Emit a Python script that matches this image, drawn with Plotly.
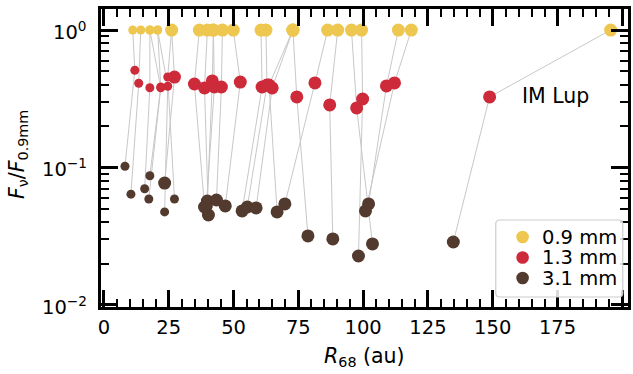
import math
import plotly.graph_objects as go

# Radius R68 (au) of each disc at the three wavelengths, and flux ratios to 0.9 mm
R_09 = [11.1, 14.2, 17.7, 20.7, 20.7, 26.1, 26.1, 17.7,
        36.8, 39.9, 42.2, 42.2, 45.7, 49.9,
        60.6, 62.5, 72.9, 72.9, 72.9, 86.3, 90.2, 95.5, 99.4, 113.6, 118.6, 195.5]
R_13 = [11.9, 13.4, 17.7, 21.9, 24.6, 27.2, 24.6, 21.9,
        34.9, 38.8, 41.8, 42.6, 45.3, 52.6,
        61.0, 62.9, 64.9, 63.7, 74.4, 81.4, 87.1, 97.5, 99.8, 109.0, 112.1, 148.8]
R_31 = [8.1, 10.4, 15.7, 17.7, 23.4, 23.4, 27.2, 17.3,
        38.8, 40.3, 39.9, 39.5, 43.4, 46.8,
        53.3, 55.3, 58.7, 66.8, 78.7, 69.8, 88.3, 103.6, 98.2, 102.1, 100.9, 134.8]
F_09 = [1.0] * 26
F_13 = [0.51, 0.41, 0.38, 0.385, 0.39, 0.455, 0.455, 0.38,
        0.405, 0.379, 0.426, 0.385, 0.385, 0.418,
        0.385, 0.398, 0.379, 0.398, 0.326, 0.412, 0.285, 0.271, 0.315, 0.392, 0.412, 0.326]
F_31 = [0.102, 0.064, 0.070, 0.087, 0.0475, 0.077, 0.059, 0.059,
        0.0516, 0.0451, 0.057, 0.0525, 0.058, 0.0525,
        0.0483, 0.0516, 0.0508, 0.0475, 0.0318, 0.0543, 0.0302, 0.0278, 0.0227, 0.0543, 0.0483, 0.0287]
# disc class: faint (small symbol) or bright (large symbol)
disc_class = ["faint"] * 5 + ["bright"] + ["faint"] * 2 + ["bright"] * 18

# labelled disc
label_name = "IM Lup"
label_pos = (174.4, 0.331)

bands = ["0.9 mm", "1.3 mm", "3.1 mm"]
colors = {"0.9 mm": "#EDC74F", "1.3 mm": "#CD2A3A", "3.1 mm": "#533A2E"}
y_major = [0.01, 0.1, 1]
y_major_text = ["10<sup>−2</sup>", "10<sup>−1</sup>", "10<sup>0</sup>"]

size_px = {"faint": 9, "bright": 13}
FONT = "DejaVu Sans"
TICK_SIZE = 19.5
TITLE_SIZE = 20.5

# page geometry of the plotting area (px)
W, H = 633, 374
ML, MR, MT, MB = 101, 2, 9, 67
PW, PH = W - ML - MR, H - MT - MB


def px_to_paper(px, py):
    return (px - ML) / PW, (H - MB - py) / PH


fig = go.Figure()

# grey connectors: 0.9 mm -> 1.3 mm -> 3.1 mm for each disc
lx, ly = [], []
for i in range(len(R_09)):
    lx += [R_09[i], R_13[i], R_31[i], None]
    ly += [F_09[i], F_13[i], F_31[i], None]
fig.add_trace(go.Scatter(x=lx, y=ly, mode="lines",
                         line=dict(color="#C8C8C8", width=1),
                         showlegend=False, hoverinfo="skip"))

sizes = [size_px[c] for c in disc_class]
for band, xs, ys in zip(bands, [R_09, R_13, R_31], [F_09, F_13, F_31]):
    fig.add_trace(go.Scatter(x=xs, y=ys, mode="markers", name=band,
                             marker=dict(color=colors[band], size=sizes, opacity=1,
                                         line=dict(width=0)),
                             showlegend=False))

fig.add_annotation(x=label_pos[0], y=math.log10(label_pos[1]), xref="x", yref="y",
                   text=label_name, showarrow=False,
                   font=dict(family=FONT, size=TITLE_SIZE, color="black"),
                   xanchor="center", yanchor="middle")

# y tick labels (powers of ten)
for v, t in zip(y_major, y_major_text):
    fig.add_annotation(x=0, y=math.log10(v), xref="paper", yref="y", text=t,
                       showarrow=False, xanchor="right", yanchor="middle",
                       xshift=-12, yshift=-1,
                       font=dict(family=FONT, size=TICK_SIZE, color="black"))

# axis titles
fig.add_annotation(xref="paper", yref="paper", x=0, y=0.51, xshift=-83,
                   text="<i>F</i><sub>ν</sub>/<i>F</i><sub>0.9mm</sub>", textangle=-90,
                   showarrow=False, font=dict(family=FONT, size=TITLE_SIZE, color="black"),
                   xanchor="center", yanchor="middle")
fig.add_annotation(xref="paper", yref="paper", x=0.5, y=0, yshift=-50,
                   text="<i>R</i><sub>68</sub> (au)",
                   showarrow=False, font=dict(family=FONT, size=TITLE_SIZE, color="black"),
                   xanchor="center", yanchor="middle")

# legend box with rounded corners
bx0, by0 = px_to_paper(498, 297)
bx1, by1 = px_to_paper(625, 220)
r = 4
wpx, hpx = 625 - 498, 297 - 220
path = (f"M {r},0 L {wpx - r},0 Q {wpx},0 {wpx},{r} L {wpx},{hpx - r} "
        f"Q {wpx},{hpx} {wpx - r},{hpx} L {r},{hpx} Q 0,{hpx} 0,{hpx - r} "
        f"L 0,{r} Q 0,0 {r},0 Z")
fig.add_shape(type="path", xref="paper", yref="paper", xsizemode="pixel", ysizemode="pixel",
              xanchor=bx0, yanchor=by0, path=path,
              fillcolor="rgba(255,255,255,0.85)", line=dict(color="#CCCCCC", width=1.2))
for k, band in enumerate(bands):
    cy = 237 + 20.5 * k
    mx, my = px_to_paper(525, cy)
    fig.add_shape(type="circle", xref="paper", yref="paper", xsizemode="pixel",
                  ysizemode="pixel", xanchor=mx, yanchor=my, x0=-6.3, x1=6.3, y0=-6.3, y1=6.3,
                  fillcolor=colors[band], line=dict(width=0))
    tx, ty = px_to_paper(543, cy)
    fig.add_annotation(xref="paper", yref="paper", x=tx, y=ty, text=band, showarrow=False,
                       xanchor="left", yanchor="middle",
                       font=dict(family=FONT, size=TICK_SIZE, color="black"))

axis_common = dict(showline=True, linecolor="black", linewidth=2.5, mirror="allticks",
                   ticks="inside", ticklen=17, tickwidth=2.5, tickcolor="black",
                   showgrid=False, zeroline=False,
                   tickfont=dict(family=FONT, size=TICK_SIZE, color="black"))

fig.update_xaxes(range=[-1.15, 202.2], tickmode="linear", tick0=0, dtick=25,
                 minor=dict(ticks="inside", ticklen=8, tickwidth=1.5, tickcolor="black",
                            tickmode="linear", tick0=0, dtick=5, showgrid=False),
                 ticklabelstandoff=1,
                 **axis_common)

y_minor = [m * d for d in (0.01, 0.1) for m in range(2, 10)]
fig.update_yaxes(type="log", range=[-2.015, 0.153], tickmode="array",
                 tickvals=y_major, showticklabels=False,
                 minor=dict(ticks="inside", ticklen=8, tickwidth=1.5, tickcolor="black",
                            tickmode="array", tickvals=y_minor, showgrid=False),
                 **axis_common)

fig.update_layout(
    width=W, height=H,
    margin=dict(l=ML, r=MR, t=MT, b=MB),
    paper_bgcolor="white", plot_bgcolor="white",
    font=dict(family=FONT, size=TICK_SIZE, color="black"),
    showlegend=False,
)

fig.write_html("out.html")
